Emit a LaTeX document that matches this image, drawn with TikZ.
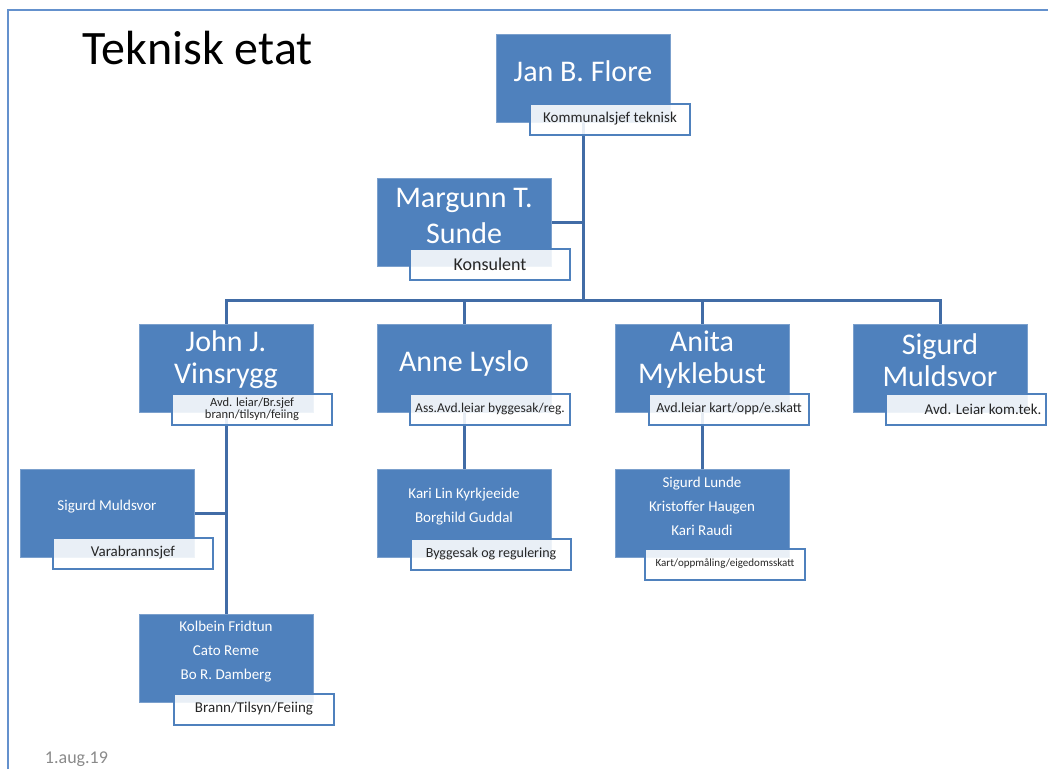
\documentclass[tikz,border=0pt]{standalone}
\usepackage{fontspec}
\setmainfont{Carlito}
\usepackage{tikz}
\usetikzlibrary{shapes}
\usetikzlibrary{backgrounds}
\definecolor{boxblue}{RGB}{79,129,189}
\definecolor{linkblue}{RGB}{65,108,166}
\definecolor{rammeblue}{RGB}{100,145,205}
\definecolor{datogra}{RGB}{138,138,138}
\tikzstyle{person}=[
        rectangle,
        fill=boxblue,
        draw=boxblue!75!white,
        line width=0.6pt,
        minimum width=174pt,
        minimum height=88pt,
        inner sep=0pt
]
\tikzstyle{rolle}=[
        rectangle,
        draw=boxblue,
        line width=2pt,
        fill=white,
        fill opacity=0.88,
        text opacity=1,
        text=black!85,
        minimum width=160pt,
        minimum height=31pt,
        inner sep=0pt
]
\tikzstyle{namn}=[text=white,align=center,inner sep=0pt,font=\fontsize{30}{32}\selectfont]
\tikzstyle{lag}=[text=white,align=center,inner sep=0pt,font=\fontsize{15}{24}\selectfont]
\tikzstyle{linje}=[draw=linkblue,line width=3pt]

\begin{document}
\begin{tikzpicture}[x=1pt,y=-1pt]
\useasboundingbox (0,0) rectangle (1048,769);
\draw[rammeblue,line width=2pt] (8,769) -- (8,10) -- (1048,10);
\node[inner sep=0pt,font=\fontsize{48}{56}\selectfont] (tittel) at (197.5,48.5) {Teknisk etat};
\node[inner sep=0pt,text=datogra,font=\fontsize{18}{20}\selectfont] (dato) at (76.5,759) {1.aug.19};
%Boxes
\node[person] (jan) at (583,78) {};
\node[namn] (jan-t) at (583,71) {Jan B. Flore};
\node[rolle,font=\fontsize{15}{17}\selectfont] (jan-r) at (610,119) {Kommunalsjef teknisk};
\node[person] (margunn) at (464,222) {};
\node[namn,font=\fontsize{30}{36}\selectfont] (margunn-t) at (464,216) {Margunn T.\\Sunde};
\node[rolle,font=\fontsize{18}{20}\selectfont] (margunn-r) at (490,264) {Konsulent};
\coordinate (buss) at (583,300);
\node[person] (john) at (226,368) {};
\node[namn] (john-t) at (226,360) {John J.\\Vinsrygg};
\node[rolle,align=center,font=\fontsize{12.5}{12.5}\selectfont] (john-r) at (252,409) {Avd. leiar/Br.sjef\\brann/tilsyn/feiing};
\node[person] (anne) at (464,368) {};
\node[namn] (anne-t) at (464,363) {Anne Lyslo};
\node[rolle,font=\fontsize{13.5}{15}\selectfont] (anne-r) at (490,409) {Ass.Avd.leiar byggesak/reg.};
\node[person] (anita) at (702,368) {};
\node[namn] (anita-t) at (702,360) {Anita\\Myklebust};
\node[rolle,font=\fontsize{14}{16}\selectfont] (anita-r) at (729,409) {Avd.leiar kart/opp/e.skatt};
\node[person] (sigurd) at (940,368) {};
\node[namn] (sigurd-t) at (940,360) {Sigurd\\Muldsvor};
\node[rolle,font=\fontsize{15}{17}\selectfont] (sigurd-r) at (966,409) {\hspace*{34pt}Avd. Leiar kom.tek.};
\node[person] (vara) at (107,513) {};
\node[lag] (vara-t) at (107,507) {Sigurd Muldsvor};
\node[rolle,font=\fontsize{15}{17}\selectfont] (vara-r) at (133,553) {Varabrannsjef};
\node[person] (kolbein) at (226,658) {};
\node[lag] (kolbein-t) at (226,652) {Kolbein Fridtun\\Cato Reme\\Bo R. Damberg};
\node[rolle,font=\fontsize{15}{17}\selectfont] (kolbein-r) at (254,709) {Brann/Tilsyn/Feiing};
\node[person] (anneteam) at (464,513) {};
\node[lag] (anneteam-t) at (464,507) {Kari Lin Kyrkjeeide\\Borghild Guddal};
\node[rolle,font=\fontsize{14}{16}\selectfont] (anneteam-r) at (491,554) {Byggesak og regulering};
\node[person] (anitateam) at (702,513) {};
\node[lag] (anitateam-t) at (702,506) {Sigurd Lunde\\Kristoffer Haugen\\Kari Raudi};
\node[rolle,font=\fontsize{11}{13}\selectfont] (anitateam-r) at (725,564) {Kart/oppmåling/eigedomsskatt};
%Drawing Edges
\begin{pgfonlayer}{background}
\draw[linje] (jan) -- (buss);
\draw[linje] (margunn.east) -- (margunn.east -| buss);
\draw[linje] (john.north) |- (buss) -| (sigurd.north);
\draw[linje] (anne.north) -- (anne.north |- buss);
\draw[linje] (anita.north) -- (anita.north |- buss);
\draw[linje] (john) -- (kolbein.north);
\draw[linje] (vara.east) -- (vara.east -| john);
\draw[linje] (anne) -- (anneteam.north);
\draw[linje] (anita) -- (anitateam.north);
\end{pgfonlayer}
\end{tikzpicture}
\end{document}
